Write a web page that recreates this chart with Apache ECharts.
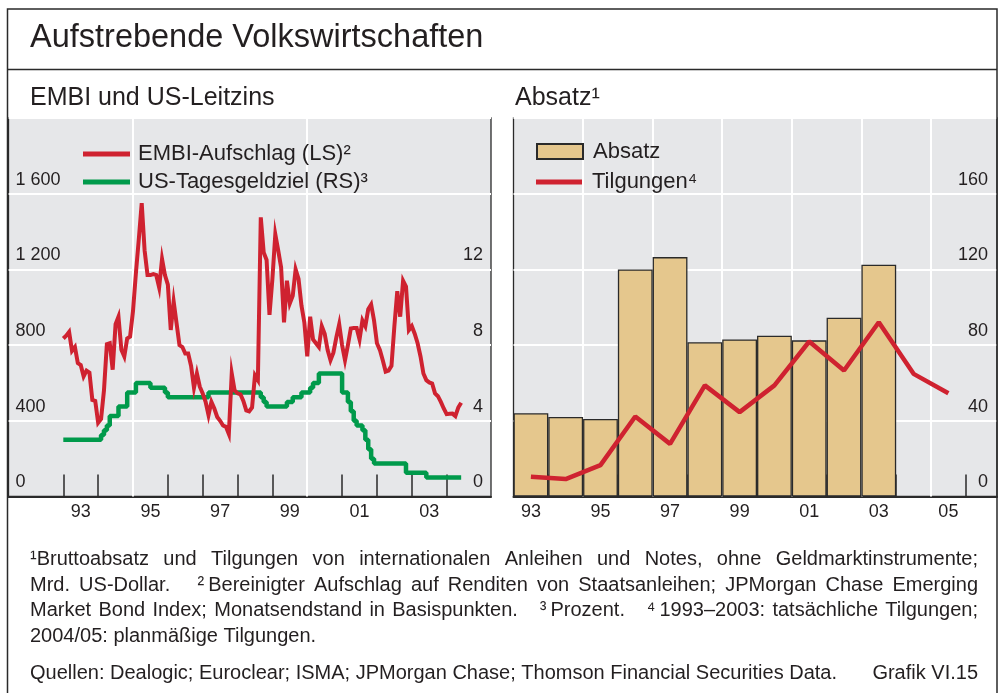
<!DOCTYPE html>
<html>
<head>
<meta charset="utf-8">
<script src="https://cdn.jsdelivr.net/npm/echarts@6/dist/echarts.min.js"></script>
<style>
html,body{margin:0;padding:0;background:#ffffff;}
#chart{width:1000px;height:693px;}
</style>
</head>
<body>
<div id="chart"></div>
<script>
// ---------------- DATA ----------------
// Left panel: monthly series, first month = January 1993
const embiFirstYear = 1993;
// EMBI spread, basis points (left scale)
const embiSpread = [
  835, 850, 870, 770, 790, 705, 695, 635, 665, 655, 510, 505,      // 1993
  390, 410, 560, 805, 810, 670, 910, 950, 775, 740, 835, 845,      // 1994
  980, 1180, 1360, 1550, 1300, 1170, 1170, 1175, 1170, 1105, 1255, 1170, // 1995
  1120, 880, 1030, 915, 800, 790, 755, 755, 690, 575, 650, 580,    // 1996
  545, 500, 430, 500, 465, 420, 400, 375, 368, 330, 650, 560,      // 1997
  545, 540, 505, 455, 450, 470, 640, 615, 1475, 1290, 1250, 960,   // 1998
  1150, 1385, 1300, 1210, 920, 1140, 1020, 1060, 1200, 1150, 1010, 920, // 1999
  740, 950, 830, 810, 790, 900, 860, 775, 720, 760, 840, 910,      // 2000
  800, 720, 800, 888, 890, 890, 830, 930, 900, 990, 1015, 930,     // 2001
  810, 775, 720, 660, 665, 690, 900, 1085, 950, 1140, 1110, 880,   // 2002
  900, 860, 810, 740, 650, 615, 603, 597, 545, 530, 500, 465,      // 2003
  435, 437, 438, 425, 470, 495                                     // 2004
];
// US federal funds target rate, percent (right scale)
const fedFundsTarget = [
  3, 3, 3, 3, 3, 3, 3, 3, 3, 3, 3, 3,                                  // 1993
  3, 3.25, 3.5, 3.75, 4.25, 4.25, 4.25, 4.75, 4.75, 4.75, 5.5, 5.5,    // 1994
  5.5, 6, 6, 6, 6, 6, 5.75, 5.75, 5.75, 5.75, 5.75, 5.5,               // 1995
  5.25, 5.25, 5.25, 5.25, 5.25, 5.25, 5.25, 5.25, 5.25, 5.25, 5.25, 5.25, // 1996
  5.25, 5.25, 5.5, 5.5, 5.5, 5.5, 5.5, 5.5, 5.5, 5.5, 5.5, 5.5,        // 1997
  5.5, 5.5, 5.5, 5.5, 5.5, 5.5, 5.5, 5.5, 5.25, 5, 4.75, 4.75,         // 1998
  4.75, 4.75, 4.75, 4.75, 4.75, 5, 5, 5.25, 5.25, 5.25, 5.5, 5.5,      // 1999
  5.5, 5.75, 6, 6, 6.5, 6.5, 6.5, 6.5, 6.5, 6.5, 6.5, 6.5,             // 2000
  5.5, 5.5, 5, 4.5, 4, 3.75, 3.75, 3.5, 3, 2.5, 2, 1.75,               // 2001
  1.75, 1.75, 1.75, 1.75, 1.75, 1.75, 1.75, 1.75, 1.75, 1.75, 1.25, 1.25, // 2002
  1.25, 1.25, 1.25, 1.25, 1.25, 1, 1, 1, 1, 1, 1, 1,                   // 2003
  1, 1, 1, 1, 1, 1                                                     // 2004
];
const leftTickYears = [1993, 1994, 1995, 1996, 1997, 1998, 1999, 2000, 2001, 2002, 2003, 2004];
const leftLabelYears = [1993, 1995, 1997, 1999, 2001, 2003];
const leftGridYears = [1995, 2000];

// Right panel: annual, Mrd. US-Dollar
const absatzYears = [1993, 1994, 1995, 1996, 1997, 1998, 1999, 2000, 2001, 2002, 2003];
const absatzValues = [44, 42, 41, 120, 126.5, 81.5, 83, 85, 82.5, 94.5, 122.5];
const tilgungYears = [1993, 1994, 1995, 1996, 1997, 1998, 1999, 2000, 2001, 2002, 2003, 2004, 2005];
const tilgungValues = [10.4, 9.2, 16.6, 42.3, 27.8, 58.7, 44.6, 58.7, 81.9, 66.6, 92.1, 64.8, 54.6];
const rightTickYears = [1994, 1995, 1996, 1997, 1998, 1999, 2000, 2001, 2002, 2003, 2004, 2005, 2006];
const rightLabelYears = [1993, 1995, 1997, 1999, 2001, 2003, 2005];
const rightGridYears = [1995, 1997, 1999, 2001, 2003, 2005];

// Texts
const titleText = 'Aufstrebende Volkswirtschaften';
const leftSubtitle = 'EMBI und US-Leitzins';
const rightSubtitle = 'Absatz\u00B9';
const nameEmbi = 'EMBI-Aufschlag (LS)\u00B2';
const nameFed = 'US-Tagesgeldziel (RS)\u00B3';
const nameAbsatz = 'Absatz';
const nameTilg = 'Tilgungen\u2074';
const footnoteLines = [
  '\u00B9Bruttoabsatz und Tilgungen von internationalen Anleihen und Notes, ohne Geldmarktinstrumente;',
  'Mrd. US-Dollar.   \u00B2\u2009Bereinigter Aufschlag auf Renditen von Staatsanleihen; JPMorgan Chase Emerging',
  'Market Bond Index; Monatsendstand in Basispunkten.   \u00B3\u2009Prozent.   \u2074\u20091993\u20132003: tats\u00E4chliche Tilgungen;',
  '2004/05: planm\u00E4\u00DFige Tilgungen.'
];
const sourceText = 'Quellen: Dealogic; Euroclear; ISMA; JPMorgan Chase; Thomson Financial Securities Data.';
const graphText = 'Grafik VI.15';

// ---------------- STYLE ----------------
const FONT = '"Liberation Sans", Arial, Helvetica, sans-serif';
const TXT = '#231f20';
const BG = '#e6e7e9';
const RED = '#cf2230';
const GREEN = '#009a4b';
const BAR = '#e5c78d';
const DARK = '#2a2a2a';

const yearWidthL = 34.85;
const leftMin = 1993 - (63.3 - 8.5) / yearWidthL;
const leftMax = leftMin + 482.5 / yearWidthL;
const rightMin = 1993;
const rightMax = 1993 + 483.5 / 34.79;

function yr2(v) { return String(Math.floor(v) % 100).padStart(2, '0'); }
function thousands(v) {
  if (v >= 1000) return Math.floor(v / 1000) + ' ' + String(v % 1000).padStart(3, '0');
  return String(v);
}

// ---------------- FOOTNOTE LAYOUT (justified words) ----------------
const mctx = document.createElement('canvas').getContext('2d');
function tw(s, size) { mctx.font = size + 'px ' + FONT; return mctx.measureText(s).width; }
function lineWords(str, x0, x1, y, size, justify) {
  const parts = str.split(/( +)/).filter(p => p.length);
  const words = []; const gaps = [];
  parts.forEach(p => { if (p[0] === ' ') gaps[words.length - 1] = p.length; else words.push(p); });
  const widths = words.map(w => tw(w, size));
  const sumW = widths.reduce((a, b) => a + b, 0);
  let sumG = 0;
  for (let i = 0; i < words.length - 1; i++) sumG += (gaps[i] || 1);
  const unit = justify ? (x1 - x0 - sumW) / sumG : tw(' ', size);
  const els = [];
  let x = x0;
  words.forEach((w, i) => {
    els.push({ type: 'text', x: x, y: y, silent: true,
      style: { text: w, fill: TXT, font: size + 'px ' + FONT, verticalAlign: 'middle', align: 'left' } });
    x += widths[i] + unit * (gaps[i] || 1);
  });
  return els;
}

const FN_SIZE = 20;
const fnY = [559.5, 585, 610.5, 636];
let graphics = [
  { type: 'rect', silent: true, z: 10, shape: { x: 7.5, y: 9, width: 989.5, height: 700 },
    style: { fill: 'none', stroke: DARK, lineWidth: 1.5 } },
  { type: 'line', silent: true, z: 10, shape: { x1: 7.5, y1: 69.5, x2: 997, y2: 69.5 },
    style: { stroke: DARK, lineWidth: 1.5 } },
  { type: 'text', x: 30, y: 38.5, silent: true,
    style: { text: titleText, fill: TXT, font: '32.5px ' + FONT, verticalAlign: 'middle' } },
  { type: 'text', x: 30, y: 98.5, silent: true,
    style: { text: leftSubtitle, fill: TXT, font: '25px ' + FONT, verticalAlign: 'middle' } },
  { type: 'text', x: 515, y: 98.5, silent: true,
    style: { text: rightSubtitle, fill: TXT, font: '25px ' + FONT, verticalAlign: 'middle' } },
  { type: 'text', x: 978, y: 673.5, silent: true,
    style: { text: graphText, fill: TXT, font: FN_SIZE + 'px ' + FONT, verticalAlign: 'middle', align: 'right' } }
];
footnoteLines.forEach((ln, i) => {
  graphics = graphics.concat(lineWords(ln, 30, 978, fnY[i], FN_SIZE, i < 3));
});
graphics = graphics.concat(lineWords(sourceText, 30, 978, 673.5, FN_SIZE, false));

// ---------------- CHART ----------------
const chart = echarts.init(document.getElementById('chart'), null, { renderer: 'canvas' });

const vLine = (years) => ({
  silent: true, symbol: 'none', z: 1, animation: false,
  label: { show: false },
  lineStyle: { color: '#ffffff', width: 2, type: 'solid' },
  data: years.map(y => ({ xAxis: y }))
});

const ySplit = { show: true, lineStyle: { color: '#ffffff', width: 2 } };
const labelBase = { color: TXT, fontSize: 18, fontFamily: FONT };

const option = {
  animation: false,
  backgroundColor: '#ffffff',
  textStyle: { fontFamily: FONT },
  graphic: graphics,
  grid: [
    { left: 8.5, top: 118, width: 482.5, height: 378.5, show: true, backgroundColor: BG,
      borderColor: DARK, borderWidth: 1.3 },
    { left: 513.5, top: 118, width: 483.5, height: 378.5, show: true, backgroundColor: BG,
      borderColor: DARK, borderWidth: 1.3 }
  ],
  xAxis: [
    { type: 'value', gridIndex: 0, min: leftMin, max: leftMax, position: 'bottom',
      splitLine: { show: false },
      axisLine: { show: true, onZero: false, lineStyle: { color: DARK, width: 2 } },
      axisTick: { show: true, inside: true, length: 22, lineStyle: { color: DARK, width: 1.5 },
        customValues: leftTickYears },
      axisLabel: Object.assign({ show: true, margin: 7, customValues: leftLabelYears.map(y => y + 0.5),
        formatter: yr2 }, labelBase) },
    { type: 'value', gridIndex: 1, min: rightMin, max: rightMax, position: 'bottom',
      splitLine: { show: false },
      axisLine: { show: true, onZero: false, lineStyle: { color: DARK, width: 2 } },
      axisTick: { show: true, inside: true, length: 22, lineStyle: { color: DARK, width: 1.5 },
        customValues: rightTickYears },
      axisLabel: Object.assign({ show: true, margin: 7, customValues: rightLabelYears.map(y => y + 0.5),
        formatter: yr2 }, labelBase) }
  ],
  yAxis: [
    { type: 'value', gridIndex: 0, min: 0, max: 2000, interval: 400, position: 'left',
      axisLine: { show: false }, axisTick: { show: false }, splitLine: ySplit,
      axisLabel: Object.assign({ inside: true, margin: 7, verticalAlign: 'bottom', padding: [0, 0, 5, 0],
        formatter: v => (v >= 2000 ? '' : thousands(v)) }, labelBase) },
    { type: 'value', gridIndex: 0, min: 0, max: 20, interval: 4, position: 'right',
      axisLine: { show: false }, axisTick: { show: false }, splitLine: { show: false },
      axisLabel: Object.assign({ inside: true, margin: 8, verticalAlign: 'bottom', padding: [0, 0, 5, 0],
        formatter: v => (v > 12 ? '' : String(v)) }, labelBase) },
    { type: 'value', gridIndex: 1, min: 0, max: 200, interval: 40, position: 'right',
      axisLine: { show: false }, axisTick: { show: false }, splitLine: ySplit,
      axisLabel: Object.assign({ inside: true, margin: 9, verticalAlign: 'bottom', padding: [0, 0, 5, 0],
        formatter: v => (v > 160 ? '' : String(v)) }, labelBase) }
  ],
  legend: [
    { left: 83, top: 138, orient: 'vertical', padding: 0, itemGap: -4, itemWidth: 47, itemHeight: 5,
      icon: 'rect', selectedMode: false, data: [nameEmbi, nameFed],
      textStyle: { color: TXT, fontSize: 22, fontFamily: FONT, lineHeight: 16, padding: [0, 0, 16, 3] } },
    { left: 536, top: 140.5, orient: 'vertical', padding: 0, itemWidth: 46, itemHeight: 15,
      icon: 'rect', selectedMode: false, data: [nameAbsatz],
      textStyle: { color: TXT, fontSize: 22, fontFamily: FONT, lineHeight: 16, padding: [0, 0, 0, 5] } },
    { left: 536, top: 166, orient: 'vertical', padding: 0, itemWidth: 46, itemHeight: 5,
      icon: 'rect', selectedMode: false, data: [nameTilg],
      textStyle: { color: TXT, fontSize: 22, fontFamily: FONT, lineHeight: 16, padding: [0, 0, 16, 5] } }
  ],
  series: [
    { name: nameFed, type: 'line', xAxisIndex: 0, yAxisIndex: 1, step: 'end', z: 2,
      showSymbol: false, symbol: 'none', color: GREEN,
      lineStyle: { color: GREEN, width: 4.5, cap: 'butt' },
      data: fedFundsTarget.map((v, i) => [embiFirstYear + i / 12, v]),
      markLine: vLine(leftGridYears) },
    { name: nameEmbi, type: 'line', xAxisIndex: 0, yAxisIndex: 0, z: 3,
      showSymbol: false, symbol: 'none', color: RED,
      lineStyle: { color: RED, width: 4, join: 'miter' },
      data: embiSpread.map((v, i) => [embiFirstYear + i / 12, v]) },
    { name: nameAbsatz, type: 'bar', xAxisIndex: 1, yAxisIndex: 2, z: 2,
      barWidth: '100%', color: BAR,
      itemStyle: { color: BAR, borderColor: DARK, borderWidth: 1.3 },
      data: absatzYears.map((y, i) => [y + 0.5, absatzValues[i]]),
      markLine: vLine(rightGridYears) },
    { name: nameTilg, type: 'line', xAxisIndex: 1, yAxisIndex: 2, z: 3,
      showSymbol: false, symbol: 'none', color: RED,
      lineStyle: { color: RED, width: 4.5 },
      data: tilgungYears.map((y, i) => [y + 0.5, tilgungValues[i]]) }
  ]
};
chart.setOption(option);
</script>
</body>
</html>
